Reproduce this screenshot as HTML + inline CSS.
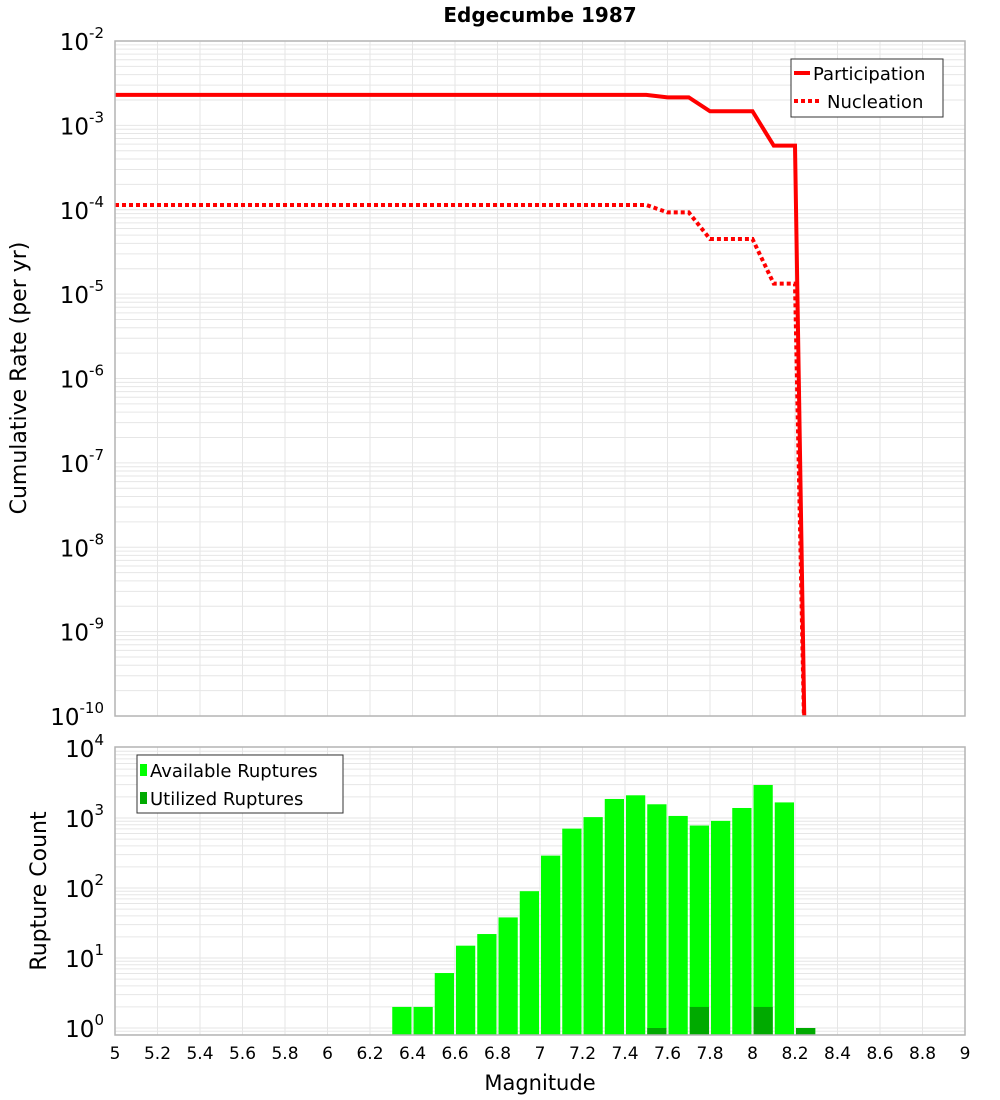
<!DOCTYPE html>
<html><head><meta charset="utf-8"><style>
html,body{margin:0;padding:0;background:#fff;}
svg{display:block;font-family:"DejaVu Sans","Liberation Sans",sans-serif;}
</style></head><body>
<svg id="chart" width="1000" height="1100" viewBox="0 0 1000 1100" xmlns="http://www.w3.org/2000/svg">
<text x="540" y="22" text-anchor="middle" font-size="20" font-weight="bold">Edgecumbe 1987</text>
<text transform="translate(26,378) rotate(-90)" text-anchor="middle" font-size="22">Cumulative Rate (per yr)</text>
<text transform="translate(46,891) rotate(-90)" text-anchor="middle" font-size="22">Rupture Count</text>
<text x="540" y="1090" text-anchor="middle" font-size="21">Magnitude</text>
<g id="gtop"></g>
<g id="gbot"></g>
</svg>
<script>
const rateMags = [5.0,5.1,5.2,5.3,5.4,5.5,5.6,5.7,5.8,5.9,6.0,6.1,6.2,6.3,6.4,6.5,6.6,6.7,6.8,6.9,7.0,7.1,7.2,7.3,7.4,7.5,7.6,7.7,7.8,7.9,8.0,8.1,8.2,8.25];
const participation = [2.3e-3,2.3e-3,2.3e-3,2.3e-3,2.3e-3,2.3e-3,2.3e-3,2.3e-3,2.3e-3,2.3e-3,2.3e-3,2.3e-3,2.3e-3,2.3e-3,2.3e-3,2.3e-3,2.3e-3,2.3e-3,2.3e-3,2.3e-3,2.3e-3,2.3e-3,2.3e-3,2.3e-3,2.3e-3,2.3e-3,2.15e-3,2.15e-3,1.47e-3,1.47e-3,1.47e-3,5.75e-4,5.75e-4,1e-11];
const nucleation = [1.14e-4,1.14e-4,1.14e-4,1.14e-4,1.14e-4,1.14e-4,1.14e-4,1.14e-4,1.14e-4,1.14e-4,1.14e-4,1.14e-4,1.14e-4,1.14e-4,1.14e-4,1.14e-4,1.14e-4,1.14e-4,1.14e-4,1.14e-4,1.14e-4,1.14e-4,1.14e-4,1.14e-4,1.14e-4,1.14e-4,9.3e-5,9.3e-5,4.5e-5,4.5e-5,4.5e-5,1.33e-5,1.33e-5,1e-11];
const binMags = [6.35,6.45,6.55,6.65,6.75,6.85,6.95,7.05,7.15,7.25,7.35,7.45,7.55,7.65,7.75,7.85,7.95,8.05,8.15,8.25];
const available = [2,2,6.1,15,22,38,90,290,705,1030,1870,2110,1570,1070,780,910,1390,2960,1670,1];
const utilized = [0,0,0,0,0,0,0,0,0,0,0,0,1,0,2,0,0,2,0,1];
const xTicks = ["5","5.2","5.4","5.6","5.8","6","6.2","6.4","6.6","6.8","7","7.2","7.4","7.6","7.8","8","8.2","8.4","8.6","8.8","9"];
const topExps = [-2,-3,-4,-5,-6,-7,-8,-9,-10];
const botExps = [0,1,2,3,4];

const NS="http://www.w3.org/2000/svg";
const L=115,R=965,T1=41,B1=716,T2=747,B2=1035;
const X=m=>L+(m-5)*(R-L)/4;
const Y1=v=>B1-(Math.log10(v)+10)*(B1-T1)/8;
const Y2=v=>1028-Math.log10(v)*70;
function mk(p,tag,at,txt){const e=document.createElementNS(NS,tag);for(const k in at)e.setAttribute(k,at[k]);if(txt!==undefined)e.textContent=txt;p.appendChild(e);return e;}
const gTop=document.getElementById('gtop'),gBot=document.getElementById('gbot');
const svgEl=document.getElementById('chart');
const defs=mk(svgEl,'defs',{});
const c1=mk(defs,'clipPath',{id:'c1'});mk(c1,'rect',{x:L,y:T1,width:R-L,height:B1-T1});
const c2=mk(defs,'clipPath',{id:'c2'});mk(c2,'rect',{x:L,y:T2,width:R-L,height:B2-T2});

function grid(g,t,b,yf,lo,hi){
  for(let i=0;i<xTicks.length;i++){const x=X(+xTicks[i]);const l=mk(g,'line',{x1:x,x2:x,y1:t,y2:b,stroke:'#e6e6e6','stroke-width':1});
    
    }
  for(let e=lo;e<hi;e++)for(let k=1;k<10;k++){const y=yf(k*Math.pow(10,e));if(y<t||y>b)continue;const l=mk(g,'line',{x1:L,x2:R,y1:y,y2:y,stroke:'#e6e6e6','stroke-width':1});
    
    }
}
grid(gTop,T1,B1,Y1,-10,-2);
grid(gBot,T2,B2,Y2,-1,4);

topExps.forEach(e=>{const y=Y1(Math.pow(10,e));const t=mk(gTop,'text',{x:104,y:y+9,'text-anchor':'end','font-size':23});
  
  
  mk(t,'tspan',{},'10');mk(t,'tspan',{dy:-12,'font-size':15},String(e));});
botExps.forEach(e=>{const y=Y2(Math.pow(10,e));const t=mk(gBot,'text',{x:104,y:y+9,'text-anchor':'end','font-size':23});
  
  
  mk(t,'tspan',{},'10');mk(t,'tspan',{dy:-12,'font-size':15},String(e));});
xTicks.forEach(s=>{const t=mk(gBot,'text',{x:X(+s),y:1059,'text-anchor':'middle','font-size':17},s);
  
  });

const gl=mk(gTop,'g',{'clip-path':'url(#c1)'});
const pp=rateMags.map((m,i)=>X(m)+','+Y1(participation[i])).join(' ');
const pl=mk(gl,'polyline',{points:pp,fill:'none',stroke:'#ff0000','stroke-width':4});


const np=rateMags.map((m,i)=>X(m)+','+Y1(nucleation[i])).join(' ');
const nl=mk(gl,'polyline',{points:np,fill:'none',stroke:'#ff0000','stroke-width':4,'stroke-dasharray':'4,3'});



const gb=mk(gBot,'g',{'clip-path':'url(#c2)'});
const bw=(R-L)/4*0.1;
binMags.forEach((m,i)=>{const x0=X(m)-bw/2+1;const y=Y2(available[i]);
  const r=mk(gb,'rect',{x:x0,y:y,width:bw-2,height:B2+5-y,fill:'#00ff00'});
  
  
  if(utilized[i]>0){const yu=Y2(utilized[i]);const u=mk(gb,'rect',{x:x0,y:yu,width:bw-2,height:B2+5-yu,fill:'#00aa00'});
    
    }
});

mk(gTop,'rect',{x:L,y:T1,width:R-L,height:B1-T1,fill:'none',stroke:'#b4b4b4','stroke-width':1.5});
mk(gBot,'rect',{x:L,y:T2,width:R-L,height:B2-T2,fill:'none',stroke:'#b4b4b4','stroke-width':1.5});

const lg1=mk(gTop,'g',{});


mk(lg1,'rect',{x:791,y:59,width:152,height:58,fill:'#fff',stroke:'#333','stroke-width':1});
mk(lg1,'line',{x1:794,x2:810,y1:73,y2:73,stroke:'#f00','stroke-width':4});
mk(lg1,'text',{x:813,y:80,'font-size':18},'Participation');
mk(lg1,'line',{x1:794,x2:820,y1:101,y2:101,stroke:'#f00','stroke-width':4,'stroke-dasharray':'4,3'});
mk(lg1,'text',{x:827,y:108,'font-size':18},'Nucleation');
const lg2=mk(gBot,'g',{});


mk(lg2,'rect',{x:137,y:755,width:206,height:58,fill:'#fff',stroke:'#333','stroke-width':1});
mk(lg2,'rect',{x:140,y:764,width:7,height:12,fill:'#00ff00'});
mk(lg2,'text',{x:150,y:777,'font-size':18},'Available Ruptures');
mk(lg2,'rect',{x:140,y:792,width:7,height:12,fill:'#00aa00'});
mk(lg2,'text',{x:150,y:805,'font-size':18},'Utilized Ruptures');
</script>
</body></html>
